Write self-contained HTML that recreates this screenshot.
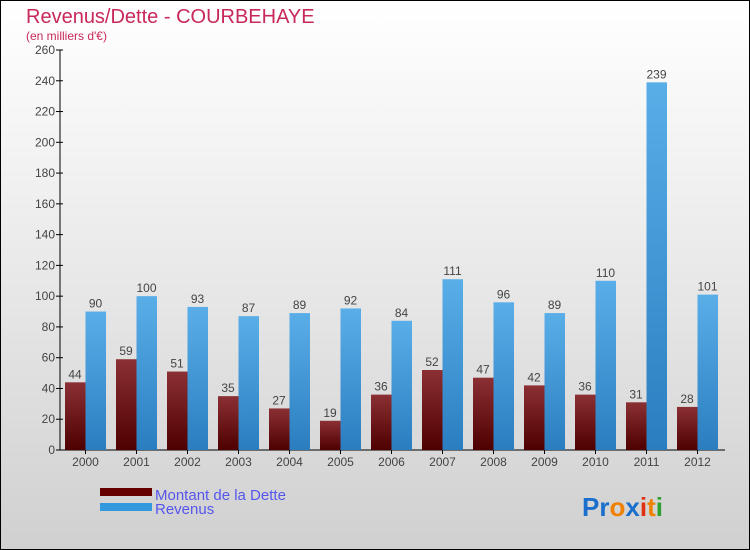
<!DOCTYPE html>
<html><head><meta charset="utf-8"><style>
body{margin:0;}
#c{width:750px;height:550px;position:relative;box-sizing:border-box;border:1px solid #000;background:linear-gradient(#ffffff,#f2f2f2 30%,#d0d0d0);font-family:"Liberation Sans",sans-serif;overflow:hidden}
</style></head><body>
<div id="c">
<svg id="s" width="750" height="550" style="position:absolute;left:-1px;top:-1px">
<defs>
<linearGradient id="gd" x1="0" y1="0" x2="0" y2="1"><stop offset="0" stop-color="#8b3034"/><stop offset="1" stop-color="#4e0000"/></linearGradient>
<linearGradient id="gr" x1="0" y1="0" x2="0" y2="1"><stop offset="0" stop-color="#5aaee8"/><stop offset="1" stop-color="#2a7ec0"/></linearGradient>
</defs>
<text x="26" y="23" font-size="20" fill="#c8285a">Revenus/Dette - COURBEHAYE</text>
<text x="26" y="40" font-size="12" fill="#c8285a">(en milliers d'€)</text>
<g id="g"></g>
<rect x="100" y="488" width="52" height="8" fill="#660000"/>
<rect x="100" y="503" width="52" height="8" fill="#3399dd"/>
<text x="155" y="500" font-size="15" fill="#5555ee">Montant de la Dette</text>
<text x="155" y="514" font-size="15" fill="#5555ee">Revenus</text>
<text x="582" y="516" font-size="26" font-weight="bold"><tspan fill="#1a6fcc">Pr</tspan><tspan fill="#f08000">o</tspan><tspan fill="#1a6fcc">x</tspan><tspan fill="#e03010">i</tspan><tspan fill="#f08000">t</tspan><tspan fill="#30a030">i</tspan></text>
</svg>
</div>
<script>
const years=["2000","2001","2002","2003","2004","2005","2006","2007","2008","2009","2010","2011","2012"];
const dette=[44,59,51,35,27,19,36,52,47,42,36,31,28];
const revenus=[90,100,93,87,89,92,84,111,96,89,110,239,101];
const yTicks=[0,20,40,60,80,100,120,140,160,180,200,220,240,260];
const NS="http://www.w3.org/2000/svg",g=document.getElementById('g');
const y=v=>450-v*400/260, xc=i=>85.5+i*51;
function mk(t,a){const e=document.createElementNS(NS,t);for(const k in a)e.setAttribute(k,a[k]);g.appendChild(e);return e;}
let e=mk('line',{x1:60,y1:50,x2:60,y2:450,stroke:'#000'});

e=mk('line',{x1:60,y1:450,x2:725,y2:450,stroke:'#000'});

yTicks.forEach(v=>{
 let t=mk('line',{x1:56,x2:63,y1:y(v),y2:y(v),stroke:'#000'});
 
 t=mk('text',{x:55,y:y(v)+4,'text-anchor':'end','font-size':12,fill:'#444'});t.textContent=v;
 
});
years.forEach((yr,i)=>{
 const c=xc(i);
 let t=mk('line',{x1:c,x2:c,y1:450,y2:454,stroke:'#000'});
 
 t=mk('text',{x:c,y:466,'text-anchor':'middle','font-size':12,fill:'#444'});t.textContent=yr;
 
 [[dette[i],'url(#gd)',c-20.5,'bar-dette'],[revenus[i],'url(#gr)',c,'bar-revenus']].forEach(([v,f,x,n])=>{
  let b=mk('rect',{x:x,y:y(v),width:20.5,height:450-y(v),fill:f});
  
  let l=mk('text',{x:x+10,y:y(v)-4,'text-anchor':'middle','font-size':12,fill:'#444'});l.textContent=v;
  
 });
});
</script>
</body></html>
